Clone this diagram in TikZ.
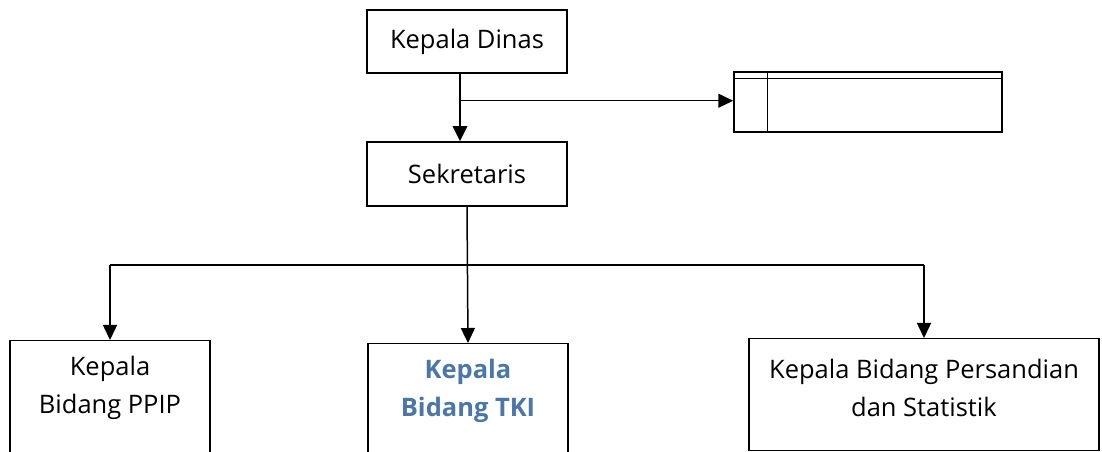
\documentclass[tikz,border=0pt]{standalone}
\usepackage{fontspec}
\setmainfont{Open Sans}
\usetikzlibrary{calc}
\usetikzlibrary{arrows.meta}
\usetikzlibrary{positioning}

\definecolor{tkiblue}{RGB}{74,118,168}
\tikzset{
  box/.style={draw, line width=.85pt, minimum width=4cm, inner sep=0pt},
  txt/.style={align=center, font=\fontsize{14.5}{22}\selectfont},
  arr/.style={line width=.85pt, -{Triangle[length=.3cm,width=.28cm]}},
  thickarr/.style={line width=1.7pt, -{Triangle[length=.3cm,width=.28cm]}}
}

\begin{document}
\begin{tikzpicture}
\useasboundingbox (0,0) rectangle (22.04,-9.04);
\clip (0,0) rectangle (22.04,-9.04);
% top
\node[box, txt, minimum height=1.26cm] (KD) at (9.34,-0.83) {Kepala Dinas};
\node[box, txt, minimum height=1.28cm] (S) at (9.34,-3.48) {Sekretaris};
\node[box, minimum width=5.36cm, minimum height=1.2cm] (T) at (17.36,-2.04) {};
\draw[line width=.85pt] ($(T.north west)+(0,-.14)$) -- ($(T.north east)+(0,-.14)$);
\draw[line width=.85pt] ($(T.north west)+(.68,0)$) -- ($(T.south west)+(.68,0)$);
\coordinate(J) at ($(KD.south)+(-.14,-.54)$);
\draw[thickarr] ($(KD.south)+(-.14,0)$) -- ($(S.north)+(-.14,0)$);
\draw[arr] (J) -- (J -| T.west);
% bidang
\node[box, minimum height=3cm, anchor=north] (PPIP) at (2.2,-6.8) {};
\node[txt] at (2.2,-7.76) {Kepala\\Bidang PPIP};
\node[box, minimum height=3cm, anchor=north] (TKI) at (9.36,-6.86) {};
\node[txt, text=tkiblue, font=\fontsize{14.5}{22}\selectfont\bfseries] at (9.36,-7.82) {Kepala\\Bidang TKI};
\node[box, minimum width=7cm, minimum height=2.24cm, anchor=north] (PS) at (18.48,-6.76) {};
\node[txt] at (18.48,-7.76) {Kepala Bidang Persandian\\dan Statistik};
\coordinate(B) at (0,-5.3);
\draw[line width=.85pt] (PPIP.north |- B) -- (PS.north |- B);
\draw[arr] (PPIP.north |- B) -- (PPIP.north);
\draw[arr] (PS.north |- B) -- (PS.north);
\draw[arr] (S.south) -- (TKI.north);
\end{tikzpicture}
\end{document}
